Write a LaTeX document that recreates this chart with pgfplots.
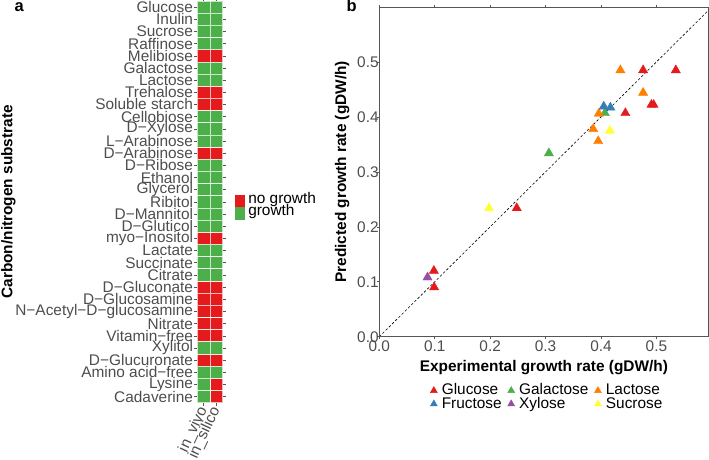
\documentclass[border=0pt]{standalone}
\usepackage{fontspec}
\setmainfont{Liberation Sans}
\usepackage{pgfplots}
\pgfplotsset{compat=1.18}

\definecolor{cred}{HTML}{E41A1C}
\definecolor{cgreen}{HTML}{4DAF4A}
\definecolor{cblue}{HTML}{377EB8}
\definecolor{cpurple}{HTML}{984EA3}
\definecolor{corange}{HTML}{FF7F00}
\definecolor{cyellow}{HTML}{FFFF33}
\definecolor{gray30}{HTML}{4D4D4D}
\definecolor{gray20}{HTML}{555555}

\newcommand{\fs}{\fontsize{15.4}{17}\selectfont}

\begin{document}
\begin{tikzpicture}
\path[use as bounding box] (0,0) rectangle (709pt,459pt);

% panel a: growth / no growth heatmap
\begin{axis}[
  at={(197.3pt,56.3pt)}, anchor=south west,
  scale only axis, width=25.4pt, height=401.7pt,
  xmin=0.5, xmax=2.5, ymin=0.5, ymax=33.5, y dir=reverse,
  axis on top,
  xtick={1,2}, xticklabels={in\_vivo,in\_silico},
  ytick={1,...,33},
  yticklabels={Glucose,Inulin,Sucrose,Raffinose,Melibiose,Galactose,Lactose,
    Trehalose,Soluble starch,Cellobiose,D−Xylose,L−Arabinose,D−Arabinose,
    D−Ribose,Ethanol,Glycerol,Ribitol,D−Mannitol,D−Gluticol,myo−Inositol,
    Lactate,Succinate,Citrate,D−Gluconate,D−Glucosamine,N−Acetyl−D−glucosamine,
    Nitrate,Vitamin−free,Xylitol,D−Glucuronate,Amino acid−free,Lysine,Cadaverine},
  tick align=outside, major tick length=3.5pt,
  tick style={gray20, line width=0.5pt},
  axis line style={gray!80, line width=0.6pt},
  ticklabel style={font=\fs, text=gray30},
  yticklabel style={inner sep=0.6pt},
  xticklabel style={rotate=65, anchor=east, inner sep=0pt},
  xticklabel shift=1.5pt,
  ylabel={Carbon/nitrogen substrate},
  ylabel style={font=\fs\bfseries, at={([xshift=-185pt]axis description cs:0,0.5)}, anchor=base},
  legend style={at={([xshift=12pt]axis description cs:1,0.487)}, anchor=west, draw=none, fill=none,
    inner sep=0pt, font=\fs, row sep=0pt,
    nodes={inner sep=0pt, text height=8.5pt, text depth=3pt},
    /tikz/every odd column/.append style={column sep=4pt}},
  legend cell align=left,
]
\addplot[only marks, color=cred, mark=square*, mark size=6.35pt,
  mark options={fill=cred, draw=white, draw opacity=0.7, line width=0.7pt, yscale=0.958},
  legend image code/.code={\fill (0pt,-5.8pt) rectangle (9pt,5.8pt);}]
  coordinates {
  (1,5) (2,5) (1,8) (2,8) (1,9) (2,9) (1,13) (2,13) (1,20) (2,20)
  (1,24) (2,24) (1,25) (2,25) (1,26) (2,26) (1,27) (2,27) (1,28) (2,28)
  (1,30) (2,30) (2,32) (2,33)
};
\addlegendentry{no growth}
\addplot[only marks, color=cgreen, mark=square*, mark size=6.35pt,
  mark options={fill=cgreen, draw=white, draw opacity=0.7, line width=0.7pt, yscale=0.958},
  legend image code/.code={\fill (0pt,-5.8pt) rectangle (9pt,5.8pt);}]
  coordinates {
  (1,1) (2,1) (1,2) (2,2) (1,3) (2,3) (1,4) (2,4) (1,6) (2,6) (1,7) (2,7)
  (1,10) (2,10) (1,11) (2,11) (1,12) (2,12) (1,14) (2,14) (1,15) (2,15)
  (1,16) (2,16) (1,17) (2,17) (1,18) (2,18) (1,19) (2,19) (1,21) (2,21)
  (1,22) (2,22) (1,23) (2,23) (1,29) (2,29) (1,31) (2,31) (1,32) (1,33)
};
\addlegendentry{growth}
\end{axis}

% panel b: predicted vs experimental growth rate
\begin{axis}[
  at={(379.3pt,122.3pt)}, anchor=south west,
  scale only axis, width=329.2pt, height=329.7pt,
  xmin=0, xmax=0.594, ymin=0, ymax=0.6,
  axis on top,
  xtick={0,0.1,0.2,0.3,0.4,0.5}, ytick={0,0.1,0.2,0.3,0.4,0.5},
  /pgf/number format/assume math mode=true,
  /pgf/number format/.cd, fixed, fixed zerofill, precision=1, /pgfplots/.cd,
  tick align=outside, major tick length=2pt,
  tick style={gray20, line width=0.6pt},
  axis line style={gray20, line width=0.9pt},
  ticklabel style={font=\fs, text=gray30},
  xticklabel style={inner sep=2pt},
  yticklabel style={anchor=east, inner sep=0pt, xshift=1.5pt},
  xlabel={Experimental growth rate (gDW/h)},
  xlabel style={font=\fs\bfseries, at={([yshift=-35pt]axis description cs:0.5,0)}, anchor=base},
  ylabel={Predicted growth rate (gDW/h)},
  ylabel style={font=\fs\bfseries, at={([xshift=-33.3pt]axis description cs:0,0.5)}, anchor=base},
  legend columns=3,
  legend style={at={([xshift=2.5pt,yshift=-48pt]axis description cs:0.5,0)}, anchor=north,
    draw=none, fill=none, inner sep=0pt, font=\fs, row sep=0pt,
    nodes={inner sep=0pt, text height=10pt, text depth=3.3pt},
    /tikz/every odd column/.append style={column sep=4.5pt},
    /tikz/every even column/.append style={column sep=6pt}},
  legend cell align=left,
  every axis plot/.append style={only marks, mark=triangle*, mark size=5.3pt},
  legend image code/.code={\draw[mark size=4pt] plot coordinates {(3.5pt,1pt)};},
]
\addplot[black, dashed, line width=0.6pt, dash pattern=on 2.5pt off 2pt, no marks, sharp plot,
  forget plot] coordinates {(0,0) (0.594,0.594)};
\addplot[color=cred, mark options={fill=cred, draw=none}] coordinates {
  (0.476,0.485) (0.535,0.485) (0.491,0.422) (0.495,0.422) (0.444,0.407)
  (0.248,0.234) (0.0985,0.12) (0.099,0.09)
};
\addlegendentry{Glucose}
\addplot[color=cgreen, mark options={fill=cgreen, draw=none}] coordinates {
  (0.407,0.407) (0.306,0.334)
};
\addlegendentry{Galactose}
\addplot[color=corange, mark options={fill=corange, draw=none}] coordinates {
  (0.435,0.485) (0.476,0.444) (0.396,0.406) (0.386,0.378) (0.395,0.356)
};
\addlegendentry{Lactose}
\addplot[color=cblue, mark options={fill=cblue, draw=none}] coordinates {
  (0.405,0.419) (0.417,0.417)
};
\addlegendentry{Fructose}
\addplot[color=cpurple, mark options={fill=cpurple, draw=none}] coordinates {
  (0.087,0.108)
};
\addlegendentry{Xylose}
\addplot[color=cyellow, mark options={fill=cyellow, draw=none}] coordinates {
  (0.416,0.375) (0.198,0.234)
};
\addlegendentry{Sucrose}
\end{axis}

\node[anchor=base west, font=\fontsize{16.5}{18}\selectfont\bfseries] at (11pt,447.3pt) {a};
\node[anchor=base west, font=\fontsize{16.5}{18}\selectfont\bfseries] at (343pt,447pt) {b};
\end{tikzpicture}
\end{document}
